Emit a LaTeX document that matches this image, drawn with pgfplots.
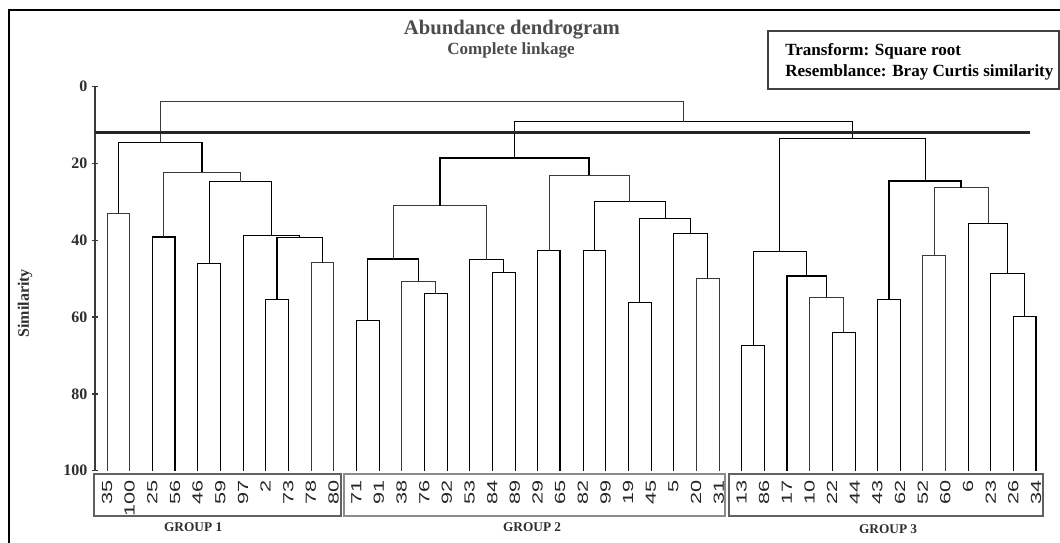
\documentclass[border=0pt]{standalone}
\usepackage{fontspec}
\setmainfont{Liberation Serif}
\newfontfamily\sansf{Liberation Sans}
\usepackage{pgfplots}
\pgfplotsset{compat=1.18}
\definecolor{ln}{HTML}{3A3A3A}
\definecolor{tx}{HTML}{2E2E2E}
\begin{document}
\begin{tikzpicture}
\begin{axis}[
 x=17pt, y=2.88pt,
 y dir=reverse,
 xmin=-0.53, xmax=41.5, ymin=0, ymax=100,
 axis y line*=left,
 axis x line*=bottom,
 x axis line style={draw=none},
 xtick={0,...,41},
 xticklabels={35,100,25,56,46,59,97,2,73,78,80,71,91,38,76,92,53,84,89,29,65,82,99,19,45,5,20,31,13,86,17,10,22,44,43,62,52,60,6,23,26,34},
 xtick style={draw=none},
 xticklabel style={yshift=-4.5pt, rotate=90, anchor=east, inner sep=0pt, xscale=1.48, font=\sansf\fontsize{11}{11}\selectfont, text=black!85},
 ytick={0,20,40,60,80,100},
 yticklabel style={font=\bfseries\fontsize{12}{12}\selectfont, text=tx},
 /pgf/number format/assume math mode=true,
 tick align=center, major tick length=4.5pt,
 y axis line style={line width=1pt, ln},
 ytick style={line width=1pt, ln},
 cycle list={{ln, line width=1.15pt, mark=none, solid}},
 clip=false,
]
% group 1
\addplot coordinates {(0,100) (0,33) (1,33) (1,100)};
\addplot coordinates {(2,100) (2,39.1) (3,39.1) (3,100)};
\addplot coordinates {(4,100) (4,45.9) (5,45.9) (5,100)};
\addplot coordinates {(7,100) (7,55.3) (8,55.3) (8,100)};
\addplot coordinates {(9,100) (9,45.8) (10,45.8) (10,100)};
\addplot coordinates {(7.5,55.3) (7.5,39.3) (9.5,39.3) (9.5,45.8)};
\addplot coordinates {(6,100) (6,38.7) (8.5,38.7) (8.5,39.3)};
\addplot coordinates {(4.5,45.9) (4.5,24.7) (7.25,24.7) (7.25,38.7)};
\addplot coordinates {(2.5,39.1) (2.5,22.2) (5.875,22.2) (5.875,24.7)};
\addplot coordinates {(0.5,33) (0.5,14.5) (4.1875,14.5) (4.1875,22.2)};
% group 2
\addplot coordinates {(11,100) (11,60.8) (12,60.8) (12,100)};
\addplot coordinates {(14,100) (14,53.9) (15,53.9) (15,100)};
\addplot coordinates {(13,100) (13,50.7) (14.5,50.7) (14.5,53.9)};
\addplot coordinates {(11.5,60.8) (11.5,44.9) (13.75,44.9) (13.75,50.7)};
\addplot coordinates {(17,100) (17,48.2) (18,48.2) (18,100)};
\addplot coordinates {(16,100) (16,45.0) (17.5,45.0) (17.5,48.2)};
\addplot coordinates {(12.625,44.9) (12.625,31.0) (16.75,31.0) (16.75,45.0)};
\addplot coordinates {(19,100) (19,42.7) (20,42.7) (20,100)};
\addplot coordinates {(21,100) (21,42.5) (22,42.5) (22,100)};
\addplot coordinates {(23,100) (23,56.2) (24,56.2) (24,100)};
\addplot coordinates {(26,100) (26,49.9) (27,49.9) (27,100)};
\addplot coordinates {(25,100) (25,38.2) (26.5,38.2) (26.5,49.9)};
\addplot coordinates {(23.5,56.2) (23.5,34.2) (25.75,34.2) (25.75,38.2)};
\addplot coordinates {(21.5,42.5) (21.5,29.9) (24.625,29.9) (24.625,34.2)};
\addplot coordinates {(19.5,42.7) (19.5,23.0) (23.0625,23.0) (23.0625,29.9)};
\addplot coordinates {(14.6875,31.0) (14.6875,18.5) (21.28125,18.5) (21.28125,23.0)};
% group 3
\addplot coordinates {(28,100) (28,67.4) (29,67.4) (29,100)};
\addplot coordinates {(32,100) (32,63.9) (33,63.9) (33,100)};
\addplot coordinates {(31,100) (31,54.8) (32.5,54.8) (32.5,63.9)};
\addplot coordinates {(30,100) (30,49.3) (31.75,49.3) (31.75,54.8)};
\addplot coordinates {(28.5,67.4) (28.5,42.9) (30.875,42.9) (30.875,49.3)};
\addplot coordinates {(34,100) (34,55.3) (35,55.3) (35,100)};
\addplot coordinates {(36,100) (36,44.0) (37,44.0) (37,100)};
\addplot coordinates {(40,100) (40,59.9) (41,59.9) (41,100)};
\addplot coordinates {(39,100) (39,48.6) (40.5,48.6) (40.5,59.9)};
\addplot coordinates {(38,100) (38,35.6) (39.75,35.6) (39.75,48.6)};
\addplot coordinates {(36.5,44.0) (36.5,26.3) (38.875,26.3) (38.875,35.6)};
\addplot coordinates {(34.5,55.3) (34.5,24.5) (37.6875,24.5) (37.6875,26.3)};
\addplot coordinates {(29.6875,42.9) (29.6875,13.3) (36.09375,13.3) (36.09375,24.5)};
% top levels
\addplot coordinates {(17.984375,18.5) (17.984375,9.1) (32.890625,9.1) (32.890625,13.3)};
\addplot coordinates {(2.34375,14.5) (2.34375,3.7) (25.4375,3.7) (25.4375,9.1)};
% cut line
\addplot[black!85, line width=2pt, mark=none] coordinates {(-0.53,12) (40.73,12)};
% group boxes
\draw[black!62, line width=1.5pt] (axis cs:-0.574,100.8) rectangle (axis cs:10.33,111.8);
\draw[black!45, line width=1.5pt] (axis cs:10.46,100.8) rectangle (axis cs:27.27,111.8);
\draw[black!62, line width=1.5pt] (axis cs:27.45,100.8) rectangle (axis cs:41.31,111.8);
\node[font=\bfseries\fontsize{10}{10}\selectfont, text=tx] at (axis cs:3.8,114.6) {GROUP 1};
\node[font=\bfseries\fontsize{10}{10}\selectfont, text=tx] at (axis cs:18.76,114.6) {GROUP 2};
\node[font=\bfseries\fontsize{10}{10}\selectfont, text=tx] at (axis cs:34.47,115.2) {GROUP 3};
% labels
\node[rotate=90, font=\bfseries\fontsize{12}{12}\selectfont, text=tx] at (axis cs:-3.62,56.4) {Similarity};
\node[font=\bfseries\fontsize{15.5}{15.5}\selectfont, text=black!70] at (axis cs:17.87,-15.0) {Abundance dendrogram};
\node[font=\bfseries\fontsize{12.8}{12.8}\selectfont, text=black!70] at (axis cs:17.83,-9.5) {Complete linkage};
% info box
\draw[black!75, line width=1pt] (axis cs:29.17,-14.53) rectangle (axis cs:42.01,0.6);
\node[anchor=west, inner sep=0pt, font=\bfseries\fontsize{12.8}{12.8}\selectfont, text=black] at (axis cs:29.92,-9.32) {Transform: Square root};
\node[anchor=west, inner sep=0pt, font=\bfseries\fontsize{12.8}{12.8}\selectfont, text=black] at (axis cs:29.92,-3.85) {Resemblance: Bray Curtis similarity};
% outer frame
\draw[black, line width=2.2pt] (axis cs:43,-20) -- (axis cs:-4.325,-20) -- (axis cs:-4.325,125);
\coordinate (bbA) at (axis cs:-4.722,-22.60);
\coordinate (bbB) at (axis cs:42.057,118.8);
\end{axis}
\pgfresetboundingbox
\useasboundingbox (bbA) rectangle (bbB);
\end{tikzpicture}
\end{document}
